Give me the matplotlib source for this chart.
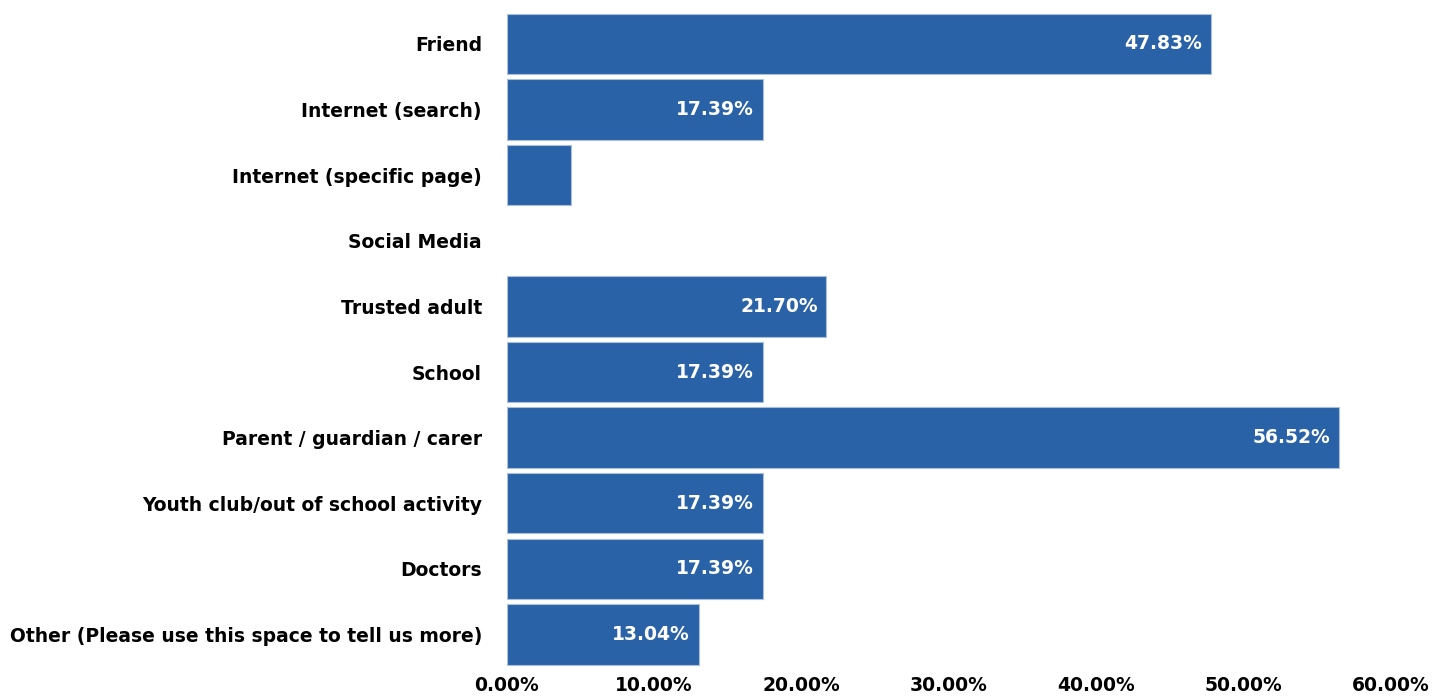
import matplotlib.pyplot as plt
from matplotlib.ticker import FuncFormatter

categories = [
    "Friend",
    "Internet (search)",
    "Internet (specific page)",
    "Social Media",
    "Trusted adult",
    "School",
    "Parent / guardian / carer",
    "Youth club/out of school activity",
    "Doctors",
    "Other (Please use this space to tell us more)",
]
values = [47.83, 17.39, 4.35, 0.0, 21.70, 17.39, 56.52, 17.39, 17.39, 13.04]
# labels shown inside bars (small bars carry none)
shown = [True, True, False, False, True, True, True, True, True, True]

bar_color = "#2a62a8"

fig = plt.figure(figsize=(14.32, 6.98), dpi=100)
ax = fig.add_axes([0.354, 0.044, 0.617, 0.940])

y = list(range(len(categories)))
bars = ax.barh(y, values, height=0.92, color=bar_color,
               edgecolor="#a9bfdc", linewidth=0.8)

for bar, v, s in zip(bars, values, shown):
    if v == 0:
        bar.set_linewidth(0)
    if s:
        ax.text(bar.get_width() - 0.6, bar.get_y() + bar.get_height() / 2,
                f"{v:.2f}%", ha="right", va="center", color="white",
                fontsize=13.5, fontweight="bold")

ax.set_xlim(0, 60)
ax.set_ylim(len(categories) - 0.5, -0.5)
ax.set_xticks(range(0, 61, 10))
ax.xaxis.set_major_formatter(FuncFormatter(lambda x, p: f"{x:.2f}%"))
ax.set_yticks(y)
ax.set_yticklabels(categories)

for lab in ax.get_xticklabels() + ax.get_yticklabels():
    lab.set_fontsize(13.5)
    lab.set_fontweight("bold")
    lab.set_color("black")

ax.tick_params(axis="both", length=0)
ax.tick_params(axis="y", pad=18)
ax.tick_params(axis="x", pad=6)
for sp in ax.spines.values():
    sp.set_visible(False)

fig.savefig("out.png", dpi=100)
